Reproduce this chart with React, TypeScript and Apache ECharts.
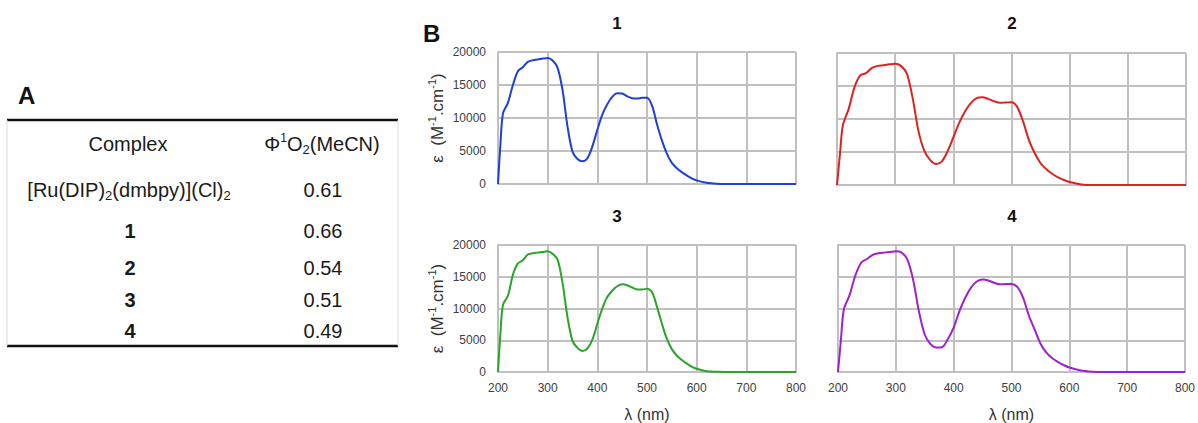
import React, { useEffect, useRef } from 'react';
import * as echarts from 'echarts';

// ---------- data ----------
const wavelengths = [
  200, 205, 210, 220, 230, 240, 250, 260, 270, 280, 290, 300, 310, 320, 330, 340,
  350, 360, 370, 380, 390, 400, 410, 420, 430, 440, 450, 460, 470, 480, 490, 500,
  510, 520, 530, 540, 550, 560, 570, 580, 590, 600, 620, 640, 660, 700, 750, 800,
];

const eps1 = [
  0, 6200, 10700, 12300, 15000, 17100, 17700, 18500, 18750, 18850, 19000, 19100, 18700, 17600, 14200, 8700,
  4900, 3800, 3450, 3900, 5700, 8200, 10500, 12100, 13200, 13750, 13700, 13300, 13000, 12950, 13050, 13050,
  11900, 9100, 6600, 4600, 3200, 2400, 1800, 1300, 850, 550, 180, 30, 0, 0, 0, 0,
];

const eps2 = [
  0, 4600, 9000, 11500, 14800, 16600, 16950, 17750, 18050, 18150, 18280, 18380, 18050, 16900, 13200, 8200,
  5200, 3800, 3200, 3550, 5100, 7200, 9400, 11150, 12400, 13150, 13280, 13050, 12700, 12450, 12500, 12550,
  11800, 9600, 6800, 4800, 3300, 2400, 1700, 1150, 750, 450, 90, 0, 0, 0, 0, 0,
];

const eps3 = [
  0, 6200, 10600, 12000, 15300, 17100, 17600, 18500, 18700, 18800, 18900, 19000, 18600, 17700, 14000, 8600,
  4900, 3800, 3300, 3700, 5100, 7600, 10000, 11800, 12800, 13500, 13800, 13650, 13300, 13000, 13000, 13100,
  12600, 10300, 7600, 5200, 3600, 2600, 1900, 1350, 850, 500, 120, 20, 0, 0, 0, 0,
];

const eps4 = [
  0, 5000, 9800, 12100, 15200, 17200, 17800, 18450, 18700, 18800, 18900, 19000, 18800, 17700, 14500, 9500,
  5900, 4400, 3850, 3900, 5200, 7000, 9600, 11700, 13300, 14250, 14550, 14400, 14050, 13800, 13850, 13850,
  13400, 11700, 8900, 6700, 4500, 3100, 2200, 1600, 1100, 700, 220, 40, 0, 0, 0, 0,
];

const panelTitles = ['1', '2', '3', '4'];
const seriesColors = ['#1f3fd8', '#dd2222', '#2aa52a', '#a020cc'];
const allSeries = [eps1, eps2, eps3, eps4];

const tableHeader = ['Complex', 'Φ{sup|1}O{sub|2}(MeCN)'];
const tableComplexes = ['[Ru(DIP){sub|2}(dmbpy)](Cl){sub|2}', '1', '2', '3', '4'];
const tableValues = ['0.61', '0.66', '0.54', '0.51', '0.49'];

// ---------- layout ----------
const FONT = '"Liberation Sans", Arial, Helvetica, sans-serif';
const GRID_COLOR = '#c0c0c0';
const grids = [
  { left: 498, top: 52, width: 298, height: 132 },
  { left: 837, top: 53, width: 349, height: 132 },
  { left: 498, top: 245, width: 298, height: 132 },
  { left: 838, top: 245, width: 348, height: 132 },
];
const titlePos = [
  [617, 23],
  [1012, 23],
  [617, 216],
  [1012, 216],
];
const rowY = [190, 231, 268, 300, 331];

const richSub = {
  sub: { fontSize: 13, lineHeight: 12, verticalAlign: 'bottom', fontFamily: FONT, fill: '#1a1a1a' },
  sup: { fontSize: 12, lineHeight: 12, verticalAlign: 'top', fontFamily: FONT, fill: '#1a1a1a' },
};

function buildOption() {
  const xAxis = grids.map((_, i) => ({
    type: 'value',
    gridIndex: i,
    min: 200,
    max: 800,
    interval: 100,
    axisLine: { show: true, lineStyle: { color: GRID_COLOR, width: 2 } },
    axisTick: { show: false },
    splitLine: { show: true, lineStyle: { color: GRID_COLOR, width: 2 } },
    axisLabel: { show: i >= 2, fontSize: 12, color: '#404040', margin: 10, fontFamily: FONT },
    name: i >= 2 ? 'λ (nm)' : '',
    nameLocation: 'middle',
    nameGap: 34,
    nameTextStyle: { fontSize: 16, color: '#333', fontFamily: FONT },
  }));
  const yAxis = grids.map((_, i) => ({
    type: 'value',
    gridIndex: i,
    min: 0,
    max: 20000,
    interval: 5000,
    axisLine: { show: true, lineStyle: { color: GRID_COLOR, width: 2 } },
    axisTick: { show: false },
    splitLine: { show: true, lineStyle: { color: GRID_COLOR, width: 2 } },
    axisLabel: {
      show: i % 2 === 0, fontSize: 12, color: '#404040', margin: 12, fontFamily: FONT,
      formatter: (v: number) => String(v),
    },
    name: i % 2 === 0 ? 'ε  (M{sup|-1}.cm{sup|-1})' : '',
    nameLocation: 'middle',
    nameGap: 50,
    nameTextStyle: {
      fontSize: 17,
      color: '#333',
      fontFamily: FONT,
      lineHeight: 22,
      rich: {
        sup: { fontSize: 11, lineHeight: 11, verticalAlign: 'top', color: '#333', fontFamily: FONT },
      },
    },
  }));
  const series = allSeries.map((vals, i) => ({
    type: 'line',
    xAxisIndex: i,
    yAxisIndex: i,
    data: wavelengths.map((w, k) => [w, vals[k]]),
    showSymbol: false,
    smooth: 0.3,
    color: seriesColors[i],
    lineStyle: { color: seriesColors[i], width: 2 },
  }));

  const graphic: any[] = [];
  panelTitles.forEach((t, i) => {
    graphic.push({
      type: 'text',
      x: titlePos[i][0],
      y: titlePos[i][1],
      style: { text: t, fontSize: 17, fontWeight: 'bold', fontFamily: FONT, fill: '#111', align: 'center', verticalAlign: 'middle' },
    });
  });
  graphic.push({
    type: 'text', x: 423, y: 33,
    style: { text: 'B', fontSize: 24, fontWeight: 'bold', fontFamily: FONT, fill: '#111', align: 'left', verticalAlign: 'middle' },
  });
  graphic.push({
    type: 'text', x: 18, y: 95,
    style: { text: 'A', fontSize: 24, fontWeight: 'bold', fontFamily: FONT, fill: '#111', align: 'left', verticalAlign: 'middle' },
  });
  // table rules
  graphic.push({ type: 'line', shape: { x1: 7, y1: 120, x2: 398, y2: 120 }, style: { stroke: '#111', lineWidth: 2.5 } });
  graphic.push({ type: 'line', shape: { x1: 7, y1: 346, x2: 398, y2: 346 }, style: { stroke: '#111', lineWidth: 2.5 } });
  graphic.push({ type: 'line', shape: { x1: 7, y1: 120, x2: 7, y2: 346 }, style: { stroke: '#d8d8d8', lineWidth: 1 } });
  graphic.push({ type: 'line', shape: { x1: 398, y1: 120, x2: 398, y2: 346 }, style: { stroke: '#d8d8d8', lineWidth: 1 } });
  // header
  graphic.push({
    type: 'text', x: 128, y: 144,
    style: { text: tableHeader[0], fontSize: 20, fontFamily: FONT, fill: '#1a1a1a', align: 'center', verticalAlign: 'middle', lineHeight: 24, rich: richSub },
  });
  graphic.push({
    type: 'text', x: 322, y: 144,
    style: { text: tableHeader[1], fontSize: 20, fontFamily: FONT, fill: '#1a1a1a', align: 'center', verticalAlign: 'middle', lineHeight: 24, rich: richSub },
  });
  tableComplexes.forEach((c, i) => {
    graphic.push({
      type: 'text', x: i === 0 ? 129 : 130, y: rowY[i],
      style: {
        text: c, fontSize: 20, fontWeight: i === 0 ? 'normal' : 'bold', fontFamily: FONT, fill: '#1a1a1a',
        align: 'center', verticalAlign: 'middle', lineHeight: 24, rich: richSub,
      },
    });
    graphic.push({
      type: 'text', x: 323, y: rowY[i],
      style: { text: tableValues[i], fontSize: 20, fontFamily: FONT, fill: '#1a1a1a', align: 'center', verticalAlign: 'middle' },
    });
  });

  return {
    animation: false,
    backgroundColor: '#ffffff',
    grid: grids.map((g) => ({ ...g, containLabel: false })),
    xAxis,
    yAxis,
    series,
    graphic,
  };
}

export default function App() {
  const ref = useRef<HTMLDivElement>(null);
  useEffect(() => {
    const chart = echarts.init(ref.current as HTMLDivElement, null, { renderer: 'svg' });
    chart.setOption(buildOption() as any);
    return () => chart.dispose();
  }, []);
  return <div ref={ref} style={{ position: 'absolute', left: 0, top: 0, width: 1198, height: 423 }} />;
}
